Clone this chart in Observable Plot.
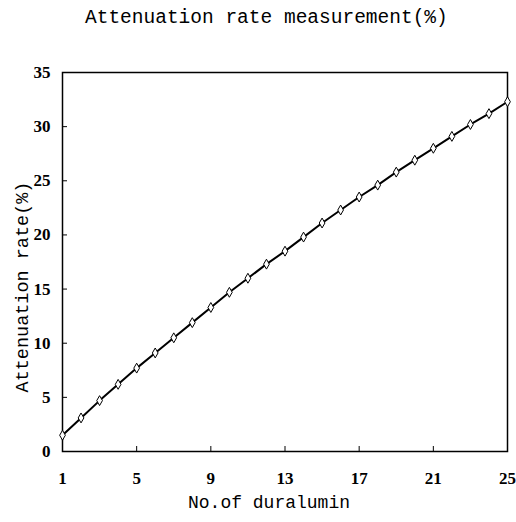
<!DOCTYPE html>
<html><head><meta charset="utf-8">
<script src="https://cdn.jsdelivr.net/npm/d3@7"></script>
<script src="https://cdn.jsdelivr.net/npm/@observablehq/plot@0.6"></script>
<style>
body{margin:0;background:#fff;}
#wrap{position:relative;width:516px;height:522px;}
#title{position:absolute;left:85px;width:362px;top:7px;text-align:center;font-family:"Liberation Mono",monospace;font-size:19.5px;color:#000;white-space:nowrap;}
</style></head><body>
<div id="wrap"><div id="title">Attenuation rate measurement(%)</div></div>
<script>
const duralumin = d3.range(1, 26);
const rate = [1.5,3.1,4.7,6.2,7.7,9.1,10.5,11.9,13.3,14.7,16.0,17.3,18.5,19.8,21.1,22.3,23.5,24.6,25.8,26.9,28.0,29.1,30.2,31.2,32.3];
const xTicks = [1,5,9,13,17,21,25];
const yTicks = [0,5,10,15,20,25,30,35];
const data = duralumin.map((d,i)=>({x:d,y:rate[i]}));

const chart = Plot.plot({
  width:516, height:522,
  marginTop:72, marginBottom:71, marginLeft:62, marginRight:9,
  style:{fontFamily:"Liberation Serif", fontSize:"17px", color:"#000", background:"#fff"},
  x:{domain:[1,25]},
  y:{domain:[0,35]},
  marks:[
    Plot.axisX({ticks:xTicks, tickSize:-5, tickPadding:25, label:null, fontSize:17, fontWeight:"bold"}),
    Plot.axisY({ticks:yTicks, tickSize:-5, tickPadding:17, label:null, fontSize:17, fontWeight:"bold"}),
    Plot.frame({stroke:"#000", strokeWidth:1.5}),
    Plot.line(data,{x:"x",y:"y",stroke:"#000",strokeWidth:2}),
    Plot.dot(data,{x:"x",y:"y",symbol:"diamond",r:3,stroke:"#000",strokeWidth:1,fill:"#fff"}),
    Plot.text(["No.of duralumin"],{frameAnchor:"bottom",dy:56,dx:-16,fontFamily:"Liberation Mono",fontSize:18}),
    Plot.text(["Attenuation rate(%)"],{frameAnchor:"left",dx:-40,dy:25,rotate:-90,textAnchor:"middle",fontFamily:"Liberation Mono",fontSize:18.5})
  ]
});
document.getElementById("wrap").prepend(chart);
</script></body></html>
